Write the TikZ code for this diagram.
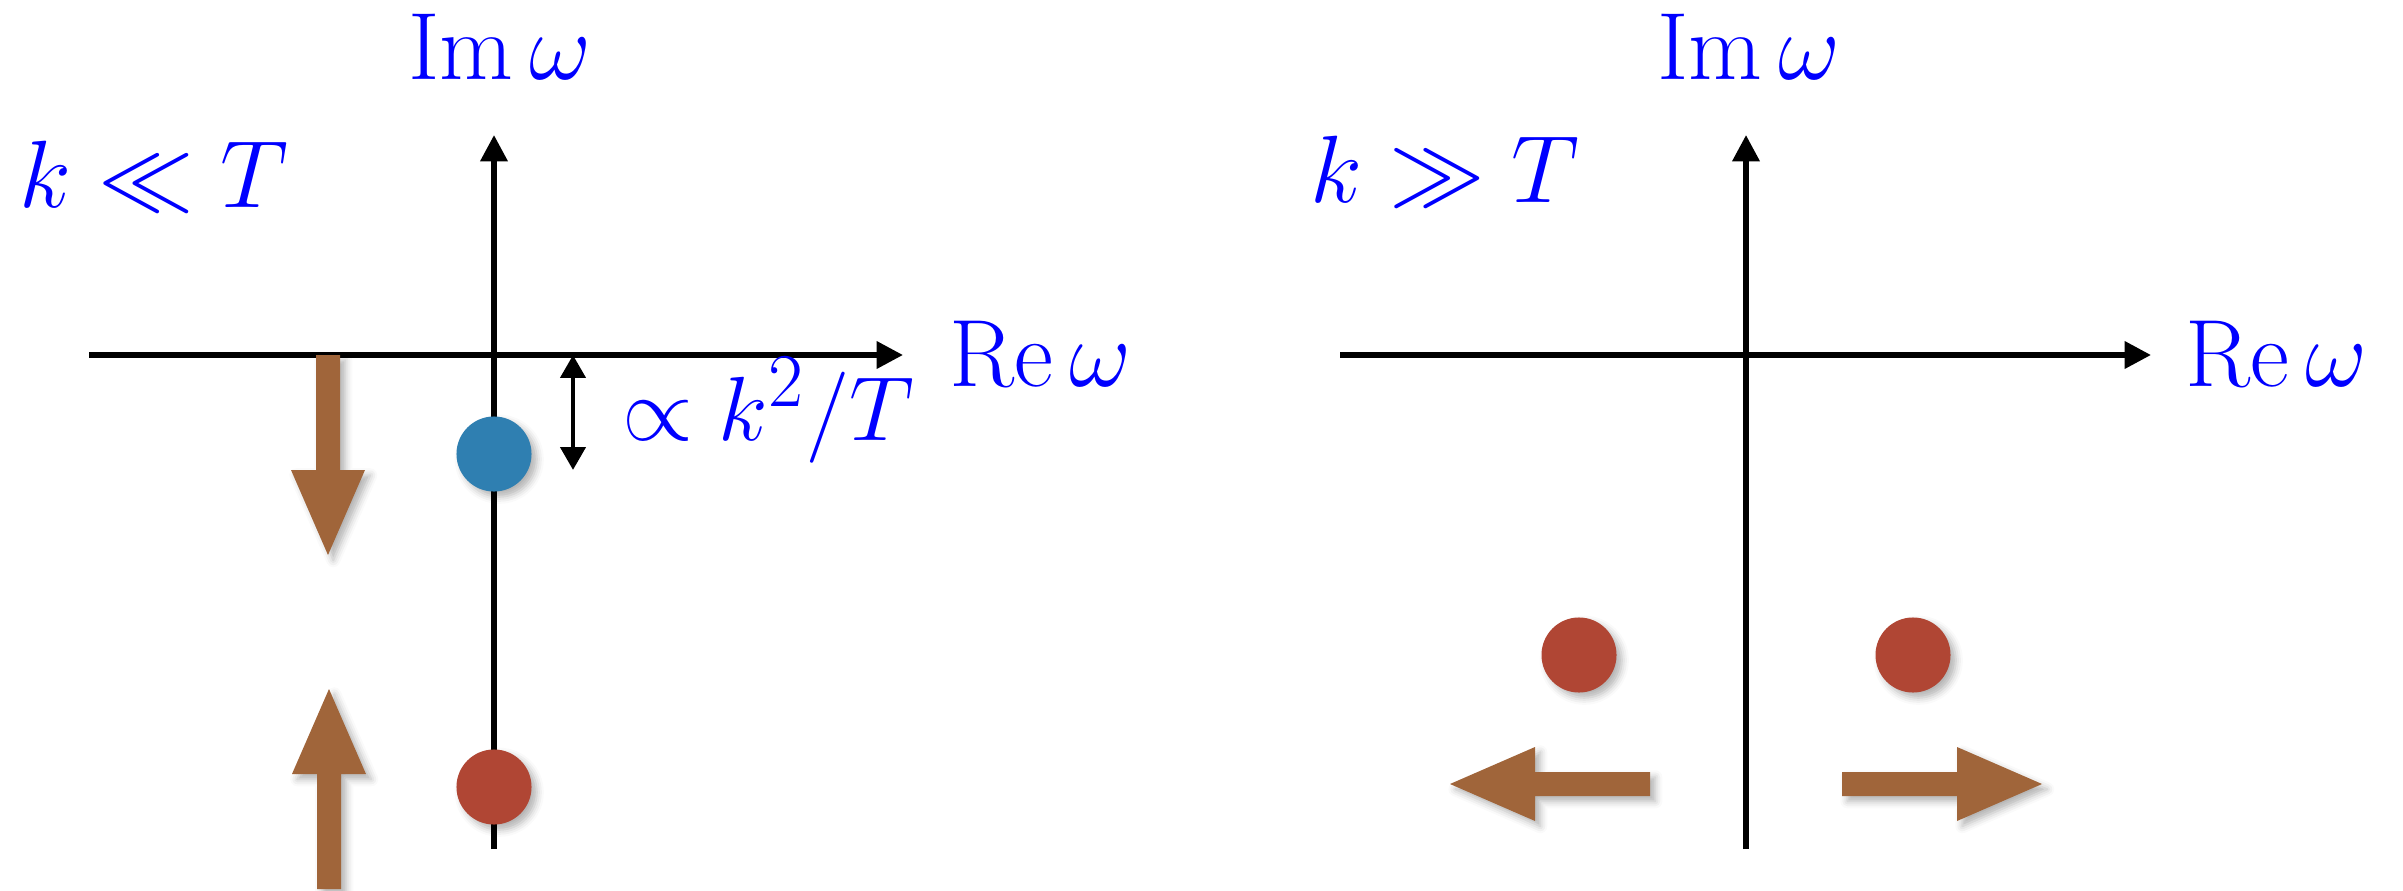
\documentclass[tikz,border=0pt]{standalone}
\usetikzlibrary{arrows.meta,shadows.blur}

\definecolor{poleblue}{RGB}{47,127,177}
\definecolor{polered}{RGB}{176,70,52}
\definecolor{flowbrown}{RGB}{160,101,58}

\begin{document}
\begin{tikzpicture}[
  x=0.01cm,
  y=0.01cm,
  axis/.style={line width=1.6pt, -{Triangle[length=7.5pt, width=7.5pt]}},
  gap/.style={line width=1.4pt, {Triangle[length=6.5pt, width=7pt]}-{Triangle[length=6.5pt, width=7pt]}},
  lab/.style={text=blue, inner sep=0pt, font=\Huge, scale=1.093},
  small lab/.style={lab, scale=0.953},
  pole/.style={circle, inner sep=0pt, minimum size=0.75cm,
    blur shadow={shadow xshift=1.5pt, shadow yshift=-1.5pt, shadow blur radius=2pt, shadow opacity=30}},
  flow/.style={fill=flowbrown,
    blur shadow={shadow xshift=1.5pt, shadow yshift=-1.5pt, shadow blur radius=2pt, shadow opacity=30}}
]
\useasboundingbox (0,0) rectangle (2403,890);

% left panel: k << T
\coordinate (reLa) at (89,535);
\coordinate (reLb) at (903,535);
\coordinate (imLa) at (494,41);
\coordinate (imLb) at (494,755);
\draw[axis] (reLa) -- (reLb);
\draw[axis] (imLa) -- (imLb);

\node[lab, anchor=base] (imL) at (500,810) {$\mathrm{Im}\,\omega$};
\node[lab, anchor=base west] (reL) at (949,504) {$\mathrm{Re}\,\omega$};
\node[lab, anchor=base west] (softL) at (19,683) {$k\ll T$};
\node[small lab, anchor=base west] (gaplab) at (622,450) {$\propto k^2/T$};

\node[pole, fill=poleblue] (diffpole) at (494,436) {};
\node[pole, fill=polered] (gappole) at (494,103) {};

\coordinate (gaptop) at (573,535);
\coordinate (gapbot) at (573,420);
\draw[gap] (gaptop) -- (gapbot);

\begin{scope}[shift={(328,435)}, rotate=-90]
  \fill[flow] (-100,-12) -- (15,-12) -- (15,-37) -- (100,0) -- (15,37) -- (15,12) -- (-100,12) -- cycle;
\end{scope}
\begin{scope}[shift={(329,101)}, rotate=90]
  \fill[flow] (-100,-12) -- (15,-12) -- (15,-37) -- (100,0) -- (15,37) -- (15,12) -- (-100,12) -- cycle;
\end{scope}

% right panel: k >> T
\coordinate (reRa) at (1340,535);
\coordinate (reRb) at (2151,535);
\coordinate (imRa) at (1746,41);
\coordinate (imRb) at (1746,755);
\draw[axis] (reRa) -- (reRb);
\draw[axis] (imRa) -- (imRb);

\node[lab, anchor=base] (imR) at (1749,810) {$\mathrm{Im}\,\omega$};
\node[lab, anchor=base west] (reR) at (2185,504) {$\mathrm{Re}\,\omega$};
\node[lab, anchor=base west] (hardR) at (1310,688) {$k\gg T$};

\node[pole, fill=polered] (polel) at (1579,235) {};
\node[pole, fill=polered] (poler) at (1913,235) {};

\begin{scope}[shift={(1550,106)}, rotate=180]
  \fill[flow] (-100,-12) -- (15,-12) -- (15,-37) -- (100,0) -- (15,37) -- (15,12) -- (-100,12) -- cycle;
\end{scope}
\begin{scope}[shift={(1942,106)}]
  \fill[flow] (-100,-12) -- (15,-12) -- (15,-37) -- (100,0) -- (15,37) -- (15,12) -- (-100,12) -- cycle;
\end{scope}

\end{tikzpicture}
\end{document}
